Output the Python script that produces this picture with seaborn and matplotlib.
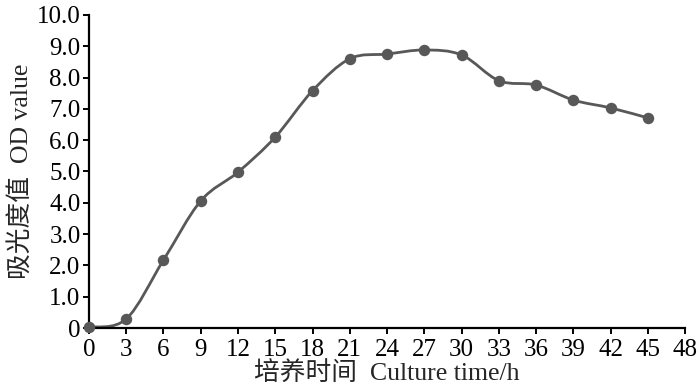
import numpy as np
import matplotlib
matplotlib.use("Agg")
import matplotlib.pyplot as plt
import seaborn as sns
import pandas as pd
from matplotlib.path import Path
from matplotlib.patches import PathPatch

hours = [0, 3, 6, 9, 12, 15, 18, 21, 24, 27, 30, 33, 36, 39, 42, 45]
od_values = [0.03, 0.29, 2.17, 4.06, 4.98, 6.1, 7.58, 8.6, 8.75, 8.88, 8.72, 7.9, 7.76, 7.28, 7.03, 6.71]
x_ticks = list(range(0, 49, 3))
y_ticks = [0, 1, 2, 3, 4, 5, 6, 7, 8, 9, 10]
y_tick_labels = ["0", "1.0", "2.0", "3.0", "4.0", "5.0", "6.0", "7.0", "8.0", "9.0", "10.0"]
x_label = "培养时间  Culture time/h"
y_label = "吸光度值  OD value"

sns.set_style("white")
plt.rcParams['font.family'] = ['Liberation Serif', 'Noto Sans CJK SC', 'DejaVu Sans']

df = pd.DataFrame({"hours": hours, "od": od_values})

fig = plt.figure(figsize=(7, 3.92), dpi=100)
ax = fig.add_axes([0.127, 0.163, 0.852, 0.799])

color = "#585858"
# smooth curve through points (Catmull-Rom -> cubic Bezier)
xs = np.array(hours, dtype=float)
ys = np.array(od_values, dtype=float)
verts = [(xs[0], ys[0])]
codes = [Path.MOVETO]
n = len(xs)
for i in range(n - 1):
    p0 = (xs[max(i - 1, 0)], ys[max(i - 1, 0)])
    p1 = (xs[i], ys[i])
    p2 = (xs[i + 1], ys[i + 1])
    p3 = (xs[min(i + 2, n - 1)], ys[min(i + 2, n - 1)])
    c1 = (p1[0] + (p2[0] - p0[0]) / 6, p1[1] + (p2[1] - p0[1]) / 6)
    c2 = (p2[0] - (p3[0] - p1[0]) / 6, p2[1] - (p3[1] - p1[1]) / 6)
    verts += [c1, c2, p2]
    codes += [Path.CURVE4] * 3
ax.add_patch(PathPatch(Path(verts, codes), facecolor="none", edgecolor=color, lw=2.0, zorder=2))

sns.scatterplot(data=df, x="hours", y="od", ax=ax, color=color, s=68, edgecolor=color,
                linewidth=0, zorder=3, legend=False, clip_on=False)

ax.set_xlim(0, 48)
ax.set_ylim(0, 10)
ax.set_xticks(x_ticks)
ax.set_xticklabels([str(v) for v in x_ticks])
ax.set_yticks(y_ticks)
ax.set_yticklabels(y_tick_labels)
for s in ["top", "right"]:
    ax.spines[s].set_visible(False)
for s in ["left", "bottom"]:
    ax.spines[s].set_color("black")
    ax.spines[s].set_linewidth(1.6)
ax.tick_params(axis="both", direction="out", length=4, width=1.4, colors="black",
               labelsize=18, pad=2, bottom=True, left=True)
ax.tick_params(axis="x", pad=4)
ax.set_xlabel(x_label, fontsize=18.5, labelpad=0.5)
ax.set_ylabel(y_label, fontsize=18.5, labelpad=3)
ax.grid(False)

fig.savefig("out.png", dpi=100)
